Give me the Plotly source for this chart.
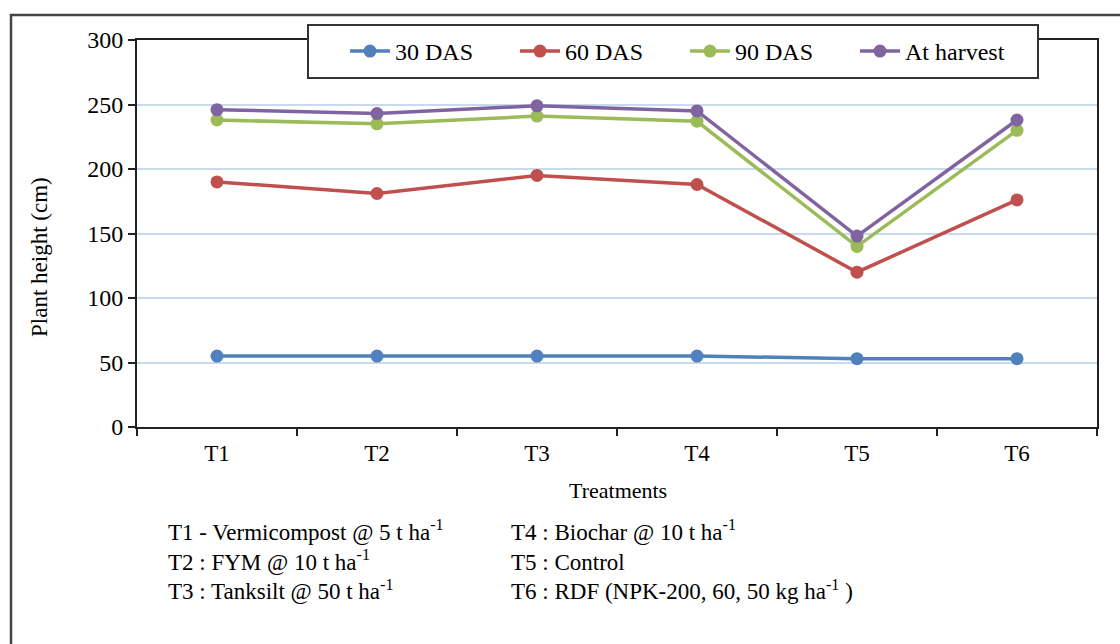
import plotly.graph_objects as go

# Treatments on the x axis
treatments = ["T1", "T2", "T3", "T4", "T5", "T6"]

# Plant height (cm) at each growth stage
das_30 = [55, 55, 55, 55, 53, 53]
das_60 = [190, 181, 195, 188, 120, 176]
das_90 = [238, 235, 241, 237, 140, 230]
at_harvest = [246, 243, 249, 245, 148, 238]

series_names = ["30 DAS", "60 DAS", "90 DAS", "At harvest"]
series_colors = ["#4F81BD", "#C0504D", "#9BBB59", "#8064A2"]

y_ticks = [0, 50, 100, 150, 200, 250, 300]

left_notes = [
    "T1 - Vermicompost @ 5 t ha<sup>-1</sup>",
    "T2 : FYM @ 10 t ha<sup>-1</sup>",
    "T3 : Tanksilt @ 50 t ha<sup>-1</sup>",
]
right_notes = [
    "T4 : Biochar @ 10 t ha<sup>-1</sup>",
    "T5 : Control",
    "T6 : RDF (NPK-200, 60, 50 kg ha<sup>-1</sup> )",
]

FONT = "Liberation Serif, Times New Roman, serif"
INK = "#000000"

fig = go.Figure()
for name, vals, col in zip(series_names, [das_30, das_60, das_90, at_harvest], series_colors):
    fig.add_trace(go.Scatter(
        x=treatments, y=vals, name=name, mode="lines+markers",
        line=dict(color=col, width=3.5),
        marker=dict(color=col, size=13),
    ))

# plot area in pixels: x 137..1097, y 40..427
W, H = 1120, 644
L, R, T, B = 137, 1097, 40, 427
pw, ph = R - L, B - T

def px(x):
    return (x - L) / pw

def py(y):
    return (B - y) / ph

fig.update_layout(
    width=W, height=H,
    margin=dict(l=L, r=W - R, t=T, b=H - B),
    paper_bgcolor="white", plot_bgcolor="white",
    font=dict(family=FONT, size=23, color=INK),
    showlegend=True,
    legend=dict(
        orientation="h",
        x=px(345), y=py(29), xanchor="left", yanchor="top",
        bgcolor="rgba(0,0,0,0)", borderwidth=0,
        font=dict(family=FONT, size=24, color=INK),
        entrywidth=115, entrywidthmode="pixels",
        itemwidth=40,
    ),
    xaxis=dict(
        type="category", range=[-0.5, 5.5],
        showline=True, linecolor="#222222", linewidth=2, mirror=True,
        ticks="outside", ticklen=7, tickwidth=2, tickcolor="#222222",
        tickson="boundaries", showgrid=False, ticklabelstandoff=4,
        tickfont=dict(family=FONT, size=23, color=INK),
        fixedrange=True,
    ),
    yaxis=dict(
        range=[0, 300], tickvals=y_ticks,
        showline=True, linecolor="#222222", linewidth=2, mirror=True,
        ticks="outside", ticklen=7, tickwidth=2, tickcolor="#222222",
        showgrid=True, gridcolor="#C9D9EE", gridwidth=1.5,
        zeroline=False,
        tickfont=dict(family=FONT, size=24, color=INK),
        fixedrange=True,
    ),
)

annotations = [
    dict(text="Plant height (cm)", x=px(39), y=py(257), textangle=-90,
         showarrow=False, xref="paper", yref="paper",
         xanchor="center", yanchor="middle",
         font=dict(family=FONT, size=23, color=INK)),
    dict(text="Treatments", x=px(618), y=py(490),
         showarrow=False, xref="paper", yref="paper",
         xanchor="center", yanchor="middle",
         font=dict(family=FONT, size=22, color=INK)),
    dict(text="<br>".join(left_notes), x=px(166), y=py(514), align="left",
         showarrow=False, xref="paper", yref="paper",
         xanchor="left", yanchor="top",
         font=dict(family=FONT, size=23, color=INK)),
    dict(text="<br>".join(right_notes), x=px(509), y=py(514), align="left",
         showarrow=False, xref="paper", yref="paper",
         xanchor="left", yanchor="top",
         font=dict(family=FONT, size=23, color=INK)),
]
fig.update_layout(annotations=annotations)

# legend box, drawn over the top edge of the plot frame
fig.add_shape(type="rect", x0=px(308), x1=px(1038), y0=py(78), y1=py(25),
              xref="paper", yref="paper", layer="above",
              fillcolor="white", line=dict(color="#333333", width=2))

# outer chart frame (left and top edges visible)
fig.add_shape(type="path",
              path=f"M {px(11)} {py(660)} L {px(11)} {py(15)} L {px(1130)} {py(15)}",
              xref="paper", yref="paper",
              line=dict(color="#444444", width=2.5))

fig.write_html("out.html")
